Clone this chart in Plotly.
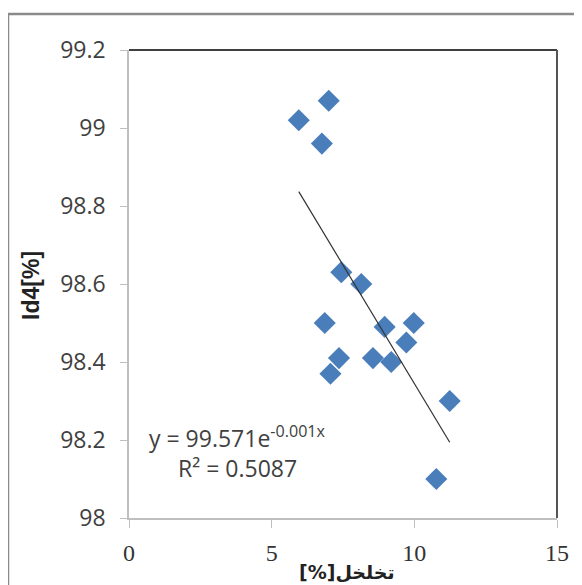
import numpy as np
import plotly.graph_objects as go

# data
porosity = [5.95, 7.0, 6.76, 7.44, 8.14, 6.86, 8.96, 9.98, 9.72, 7.36, 7.06, 8.55, 9.19, 11.24, 10.77]
id4 = [99.02, 99.07, 98.96, 98.63, 98.60, 98.50, 98.49, 98.50, 98.45, 98.41, 98.37, 98.41, 98.40, 98.30, 98.10]
x_ticks = [0, 5, 10, 15]
y_ticks = [98, 98.2, 98.4, 98.6, 98.8, 99, 99.2]
y_tick_text = ["98", "98.2", "98.4", "98.6", "98.8", "99", "99.2"]
eq_text = "y = 99.571e<sup>-0.001x</sup>"
r2_text = "R² = 0.5087"
x_title = "تخلخل[%]\u200f"
y_title = "Id4[%]"

# exponential trendline fitted from the data
xa = np.array(porosity)
ya = np.array(id4)
b, ln_a = np.polyfit(xa, np.log(ya), 1)
x_fit = np.array([xa.min(), xa.max()])
y_fit = np.exp(ln_a) * np.exp(b * x_fit)

fig = go.Figure()
fig.add_trace(go.Scatter(
    x=porosity, y=id4, mode="markers",
    marker=dict(symbol="diamond", size=17, color="#4a7ebb"),
    showlegend=False,
))
fig.add_trace(go.Scatter(
    x=x_fit, y=y_fit, mode="lines",
    line=dict(color="#333333", width=1.2),
    showlegend=False,
))

fig.update_layout(
    width=574, height=577,
    margin=dict(l=121, r=25, t=42, b=67),
    paper_bgcolor="white", plot_bgcolor="white",
    xaxis=dict(
        range=[0, 15], tickvals=x_ticks, ticktext=[str(v) for v in x_ticks],
        showgrid=False, zeroline=False,
        showline=True, linecolor="#bfbfbf", linewidth=1.5,
        ticks="outside", ticklen=8, tickcolor="#bfbfbf",
        ticklabelstandoff=4,
        tickfont=dict(family="Liberation Serif", size=24, color="#333333"),
    ),
    yaxis=dict(
        range=[98, 99.2], tickvals=y_ticks, ticktext=y_tick_text,
        showgrid=False, zeroline=False,
        showline=True, linecolor="#bfbfbf", linewidth=1.5,
        ticks="outside", ticklen=7, tickcolor="#bfbfbf",
        ticklabelstandoff=10,
        tickfont=dict(family="Open Sans", size=23, color="#404040"),
    ),
    shapes=[
        # outer chart frame
        dict(type="rect", xref="paper", yref="paper",
             x0=-0.2827, x1=1.3, y0=-0.3, y1=1.0769,
             line=dict(color="#8a8a8a", width=2.5), layer="below"),
        # dark top border of plot area
        dict(type="line", xref="paper", yref="paper",
             x0=0, x1=1, y0=1, y1=1, line=dict(color="#404040", width=2.2)),
        # dark right border of plot area
        dict(type="line", xref="paper", yref="paper",
             x0=1, x1=1, y0=0, y1=1, line=dict(color="#555555", width=2)),
    ],
    annotations=[
        dict(text="<b>" + y_title + "</b>", xref="paper", yref="paper",
             x=-0.229, y=0.498, xanchor="center", yanchor="middle",
             textangle=-90, showarrow=False,
             font=dict(family="Liberation Sans", size=23, color="#222222")),
        dict(text="<b>" + x_title + "</b>", xref="paper", yref="paper",
             x=0.509, y=-0.115, xanchor="center", yanchor="middle",
             showarrow=False,
             font=dict(family="DejaVu Sans", size=19, color="#222222")),
        dict(text=eq_text, xref="paper", yref="paper",
             x=0.042, y=0.173, xanchor="left", yanchor="middle",
             showarrow=False,
             font=dict(family="Open Sans", size=23, color="#404040")),
        dict(text=r2_text, xref="paper", yref="paper",
             x=0.11, y=0.107, xanchor="left", yanchor="middle",
             showarrow=False,
             font=dict(family="Open Sans", size=23, color="#404040")),
    ],
)

fig.write_html("out.html")
